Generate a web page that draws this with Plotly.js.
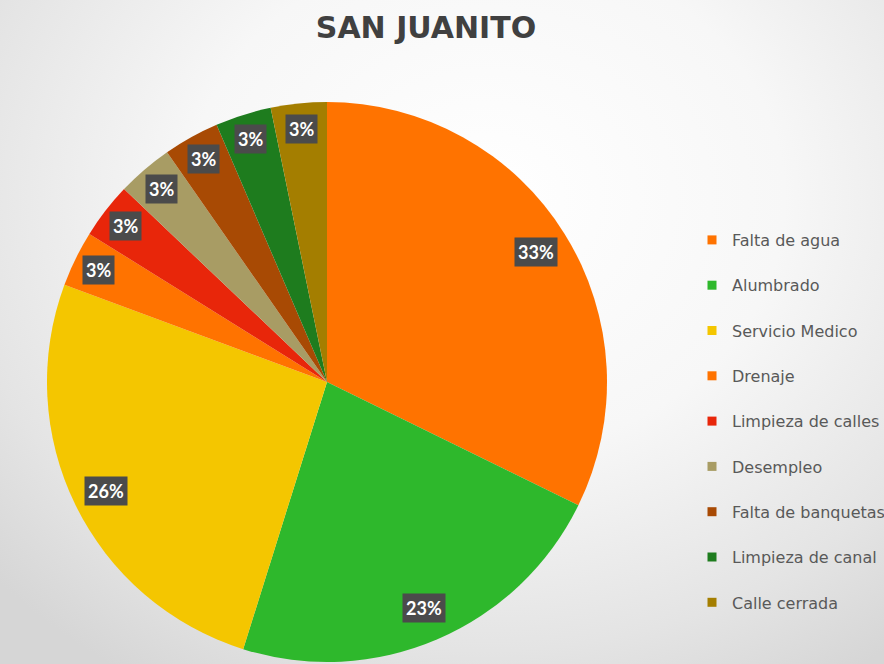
<!DOCTYPE html>
<html>
<head>
<meta charset="utf-8">
<script src="https://cdn.plot.ly/plotly-3.0.1.min.js"></script>
<style>
  html, body { margin: 0; padding: 0; }
  body {
    width: 884px; height: 664px; overflow: hidden;
    background: radial-gradient(ellipse 75% 85% at 55% 30%, #ffffff 0%, #f7f7f7 45%, #e4e4e4 80%, #d6d6d6 100%);
  }
  #chart { width: 884px; height: 664px; }
</style>
</head>
<body>
<div id="chart"></div>
<script>
// Data
const categories = ["Falta de agua", "Alumbrado", "Servicio Medico", "Drenaje", "Limpieza de calles",
                    "Desempleo", "Falta de banquetas", "Limpieza de canal", "Calle cerrada"];
const counts = [10, 7, 8, 1, 1, 1, 1, 1, 1];
const pctLabels = ["33%", "23%", "26%", "3%", "3%", "3%", "3%", "3%", "3%"];
const colors = ["#FF7300", "#2EB82C", "#F4C600", "#FF7300", "#E8260A",
                "#A89C64", "#A84A04", "#1E7C1E", "#A47E00"];

const W = 884, H = 664;
const cxPx = 327, cyPx = 382, R = 280;

const traces = [{
  type: "pie",
  labels: categories,
  values: counts,
  sort: false,
  direction: "clockwise",
  rotation: 0,
  marker: { colors: colors, line: { width: 0 } },
  textinfo: "none",
  hoverinfo: "label+percent",
  showlegend: false,
  domain: { x: [(cxPx - R) / W, (cxPx + R) / W], y: [1 - (cyPx + R) / H, 1 - (cyPx - R) / H] }
}];

// legend entries (one per category, same colours)
categories.forEach((c, i) => {
  traces.push({
    type: "scatter", mode: "markers", x: [null], y: [null],
    name: c, legendgroup: "g" + i,
    marker: { symbol: "square", size: 9, color: colors[i] },
    hoverinfo: "skip", showlegend: true
  });
});

// percentage label boxes, placed at the mid-angle of each slice
const total = counts.reduce((a, b) => a + b, 0);
const annotations = [];
let cum = 0;
counts.forEach((v, i) => {
  const mid = (cum + v / 2) / total * 2 * Math.PI;
  cum += v;
  const rr = (v / total > 0.1 ? 0.88 : 0.91) * R;
  const px = cxPx + rr * Math.sin(mid);
  const py = cyPx - rr * Math.cos(mid);
  annotations.push({
    xref: "paper", yref: "paper", x: px / W, y: 1 - py / H,
    xanchor: "center", yanchor: "middle", showarrow: false,
    text: "<b>" + pctLabels[i] + "</b>",
    font: { family: "Lato, 'Noto Sans', sans-serif", size: 18, color: "#ffffff" },
    bgcolor: "#4B4B4B", borderpad: 3
  });
});

const layout = {
  width: W, height: H,
  margin: { l: 0, r: 0, t: 0, b: 0, autoexpand: false },
  paper_bgcolor: "rgba(0,0,0,0)",
  plot_bgcolor: "rgba(0,0,0,0)",
  title: {
    text: "<b>SAN JUANITO</b>",
    font: { family: "'DejaVu Sans', sans-serif", size: 30, color: "#404040" },
    x: 426 / W, xanchor: "center", y: 1 - 27 / H, yanchor: "middle"
  },
  xaxis: { visible: false, domain: [0.99, 1] },
  yaxis: { visible: false, domain: [0.99, 1] },
  showlegend: true,
  legend: {
    x: 692 / W, xanchor: "left", y: 1 - 223 / H, yanchor: "top",
    bgcolor: "rgba(0,0,0,0)",
    font: { family: "'DejaVu Sans', sans-serif", size: 16, color: "#595959" },
    tracegroupgap: 21.5,
    traceorder: "grouped"
  },
  annotations: annotations
};

Plotly.newPlot("chart", traces, layout, { displayModeBar: false, staticPlot: true });
</script>
</body>
</html>
